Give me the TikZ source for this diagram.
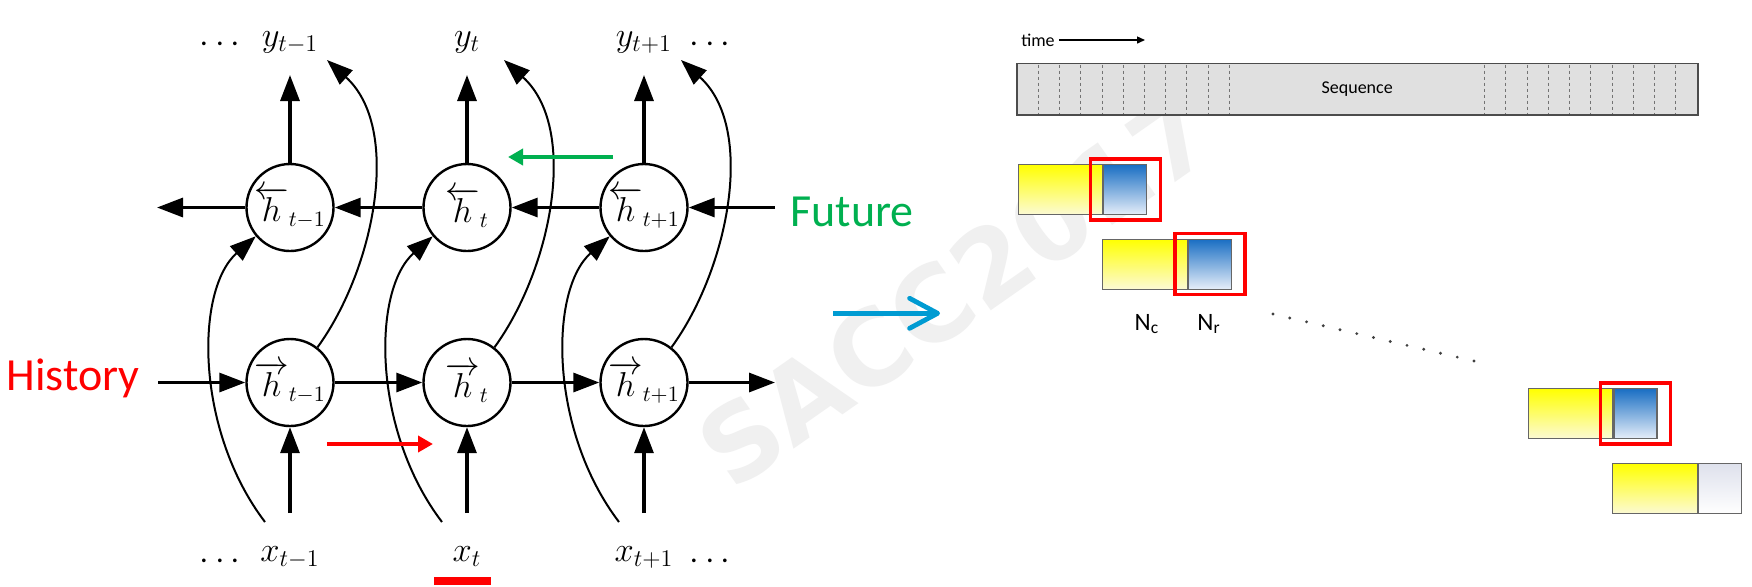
\documentclass[tikz,border=0pt]{standalone}
\usepackage{fontspec}
\newfontfamily\carl{Carlito}
\newfontfamily\dvs{DejaVu Sans}
\usetikzlibrary{arrows.meta}
\definecolor{myred}{RGB}{255,0,0}
\definecolor{mygreen}{RGB}{0,176,80}
\definecolor{myblue}{RGB}{0,155,210}
\definecolor{yel}{RGB}{255,255,0}
\definecolor{yelpale}{RGB}{252,250,212}
\definecolor{bluetop}{RGB}{25,110,195}
\definecolor{bluebot}{RGB}{230,238,249}
\definecolor{greytop}{RGB}{222,225,236}
\begin{document}
\begin{tikzpicture}[x=0.5pt,y=-0.5pt,
  cell/.style={circle, draw, fill=white, line width=1.2pt, minimum size=43.5pt, inner sep=0pt, font=\fontsize{16}{18}\selectfont},
  arr/.style={line width=1.6pt, -{Triangle[length=13pt,width=9.5pt]}},
  carr/.style={line width=1pt, -{Triangle[length=13pt,width=9.5pt]}},
  crv/.style={line width=1pt},
  lab/.style={font=\fontsize{17}{19}\selectfont, anchor=base, inner sep=0pt},
  dotsn/.style={font=\fontsize{17}{19}\selectfont, inner sep=0pt},
  bigtxt/.style={font=\carl\fontsize{23}{26}\selectfont, anchor=base west, inner sep=0pt},
  smalltxt/.style={font=\carl\fontsize{9}{10}\selectfont, inner sep=0pt},
  ybox/.style={draw=black!60, line width=0.6pt, top color=yel, bottom color=yelpale, minimum width=42.2pt, minimum height=25pt, inner sep=0pt, anchor=north west},
  bbox/.style={draw=black!60, line width=0.6pt, top color=bluetop, bottom color=bluebot, minimum width=21.5pt, minimum height=25pt, inner sep=0pt, anchor=north west},
  gbox/.style={draw=black!60, line width=0.6pt, top color=greytop, bottom color=white, minimum width=21.5pt, minimum height=25pt, inner sep=0pt, anchor=north west},
  rbox/.style={draw=myred, line width=1.8pt, minimum width=35pt, minimum height=30.5pt, inner sep=0pt},
  dashline/.style={black!55, line width=0.45pt, dash pattern=on 1.5pt off 1.5pt}
]
\fill[white] (0,0) rectangle (1752,586);
\useasboundingbox (0,0) rectangle (1752,586);

% watermark
\node[rotate=35, text=black!6, font=\dvs\bfseries\fontsize{52}{52}\selectfont, inner sep=0pt] (wm) at (955,290) {SACC2017};

% ---------- left panel ----------
\foreach \c/\i in {290/1,467/2,644/3}{
  \node[cell] (u\i) at (\c,207.5) {};
  \node[cell] (l\i) at (\c,382.5) {};
}
\node[font=\fontsize{16}{18}\selectfont, inner sep=0pt] at (u1.center) {$\overleftarrow{h}_{t-1}$};
\node[font=\fontsize{16}{18}\selectfont, inner sep=0pt] at (u2.center) {$\overleftarrow{h}_{t}$};
\node[font=\fontsize{16}{18}\selectfont, inner sep=0pt] at (u3.center) {$\overleftarrow{h}_{t+1}$};
\node[font=\fontsize{16}{18}\selectfont, inner sep=0pt] at (l1.center) {$\overrightarrow{h}_{t-1}$};
\node[font=\fontsize{16}{18}\selectfont, inner sep=0pt] at (l2.center) {$\overrightarrow{h}_{t}$};
\node[font=\fontsize{16}{18}\selectfont, inner sep=0pt] at (l3.center) {$\overrightarrow{h}_{t+1}$};

% curves
\foreach \c/\i in {290/1,467/2,644/3}{
  \coordinate (a\i) at (\c-25,522);
  \coordinate (b\i) at (\c+37,60);
  \draw[carr] (a\i) .. controls (\c-95,430) and (\c-95,290) .. (u\i.220);
  \draw[carr] (l\i.52) .. controls (\c+85,268) and (\c+112,128) .. (b\i);
  \coordinate (yt\i) at (\c,75);
  \coordinate (xb\i) at (\c,513);
  \draw[arr] (u\i.north) -- (yt\i);
  \draw[arr] (xb\i) -- (l\i.south);
}

% horizontal arrows
\coordinate (fut) at (775,207.5);
\coordinate (leftend) at (157,207.5);
\coordinate (hist) at (158,382.5);
\coordinate (rightend) at (775,382.5);
\draw[arr] (fut) -- (u3.east);
\draw[arr] (u3.west) -- (u2.east);
\draw[arr] (u2.west) -- (u1.east);
\draw[arr] (u1.west) -- (leftend);
\draw[arr] (hist) -- (l1.west);
\draw[arr] (l1.east) -- (l2.west);
\draw[arr] (l2.east) -- (l3.west);
\draw[arr] (l3.east) -- (rightend);

% labels
\node[lab] (y1) at (290,46) {$y_{t-1}$};
\node[lab] (y2) at (467,46) {$y_{t}$};
\node[lab] (y3) at (644,46) {$y_{t+1}$};
\node[lab] (x1) at (290,561.7) {$x_{t-1}$};
\node[lab] (x2) at (467,561.7) {$x_{t}$};
\node[lab] (x3) at (644,561.7) {$x_{t+1}$};
\node[dotsn] (d1) at (220,45) {$\cdots$};
\node[dotsn] (d2) at (710,45) {$\cdots$};
\node[dotsn] (d3) at (220,561.5) {$\cdots$};
\node[dotsn] (d4) at (710,561.5) {$\cdots$};

\node[bigtxt, text=myred] (history) at (6,390) {History};
\node[bigtxt, text=mygreen] (future) at (790,226) {Future};

% coloured arrows
\coordinate (ra1) at (327,444);
\coordinate (ra2) at (433,444);
\draw[myred, line width=2.3pt, -{Triangle[length=7.5pt,width=8pt]}] (ra1) -- (ra2);
\coordinate (ga1) at (613,157);
\coordinate (ga2) at (508,157);
\draw[mygreen, line width=2.3pt, -{Triangle[length=7.5pt,width=8pt]}] (ga1) -- (ga2);
\fill[myred] (434,576.5) rectangle (491,585);
\coordinate (ba1) at (833,313.3);
\coordinate (ba2) at (940,313.3);
\draw[myblue, line width=2.4pt, -{Straight Barb[length=14pt,width=15pt,round]}] (ba1) -- (ba2);

% ---------- right panel ----------
\node[smalltxt] (time) at (1038,40) {time};
\coordinate (tb) at (1145,40);
\draw[line width=0.7pt, shorten <=2pt, -{Triangle[length=4pt,width=3.5pt]}] (time.east) -- (tb);

\node[draw=black!70, line width=0.8pt, fill=black!12, minimum width=340.5pt, minimum height=25.85pt, inner sep=0pt] (seq) at (1357.2,89.15) {};
\foreach \k in {0,...,9}{
  \draw[dashline] ({1038.5+21.2*\k},64.5) -- ({1038.5+21.2*\k},114);
  \draw[dashline] ({1484.4+21.27*\k},64.5) -- ({1484.4+21.27*\k},114);
}
\node[smalltxt] (seqt) at (seq.center) {Sequence};

% blocks
\node[ybox] (y1b) at (1017.6,164) {};
\node[bbox] (b1b) at (y1b.north east) {};
\node[ybox] (y2b) at (1102.1,238.5) {};
\node[bbox] (b2b) at (y2b.north east) {};
\node[ybox] (y3b) at (1527.7,388) {};
\node[bbox] (b3b) at (y3b.north east) {};
\node[ybox] (y4b) at (1612.2,463) {};
\node[gbox] (b4b) at (y4b.north east) {};
\node[rbox] (r1) at (b1b.center) {};
\node[rbox] (r2) at (b2b.center) {};
\node[rbox] (r3) at (b3b.center) {};

\node[font=\carl\fontsize{12.5}{14}\selectfont, inner sep=0pt] (nc) at (1147,324) {N\textsubscript{c}};
\node[font=\carl\fontsize{12.5}{14}\selectfont, inner sep=0pt] (nr) at (1209,324) {N\textsubscript{r}};

\foreach \k in {0,...,12}{
  \fill[black!75] ({1273+\k*16.75},{314+\k*3.92}) circle[radius=0.8pt];
}
\end{tikzpicture}
\end{document}
